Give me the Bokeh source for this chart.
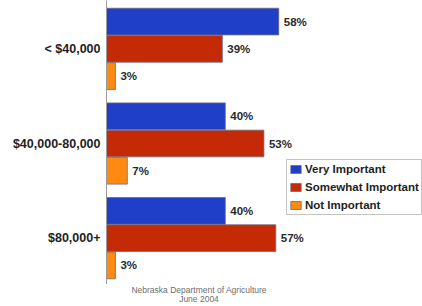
from bokeh.plotting import figure
from bokeh.models import (ColumnDataSource, Range1d, FixedTicker, Legend, LegendItem,
                          LinearAxis, Div)
from bokeh.layouts import column
from bokeh.transform import dodge
from bokeh.core.properties import value
from bokeh.embed import file_html
from bokeh.resources import INLINE

groups = ["< $40,000", "$40,000-80,000", "$80,000+"]
series = ["Very Important", "Somewhat Important", "Not Important"]
very = [58, 40, 40]
somewhat = [39, 53, 57]
not_imp = [3, 7, 3]
colors = ["#1f3fc8", "#c42a06", "#ff8a12"]
footer1 = "Nebraska Department of Agriculture"
footer2 = "June 2004"

n = len(groups)
ypos = [n - 1 - i for i in range(n)]
src = ColumnDataSource(dict(
    y=ypos, very=very, somewhat=somewhat, not_imp=not_imp,
    very_t=[f"{v}%" for v in very],
    somewhat_t=[f"{v}%" for v in somewhat],
    not_t=[f"{v}%" for v in not_imp],
))

FONT = value("Liberation Sans")

p = figure(width=422, height=284, output_backend="svg", toolbar_location=None,
           x_range=Range1d(0, 106.4), y_range=Range1d(-0.4894, 2.5106),
           min_border_left=106, min_border_right=0, min_border_top=0,
           min_border_bottom=0, x_axis_location=None, y_axis_location=None)
p.outline_line_color = None
p.xgrid.visible = False
p.ygrid.visible = False

yax = LinearAxis(ticker=FixedTicker(ticks=ypos),
                 major_label_overrides={y: g for y, g in zip(ypos, groups)})
yax.major_tick_out = 0
yax.major_tick_in = 0
yax.minor_tick_out = 0
yax.minor_tick_in = 0
yax.axis_line_color = "#9a9a9a"
yax.major_label_text_font = "Liberation Sans"
yax.major_label_text_font_style = "bold"
yax.major_label_text_font_size = "12.5px"
yax.major_label_text_color = "#1e1e1e"
yax.major_label_standoff = 6
p.add_layout(yax, "left")

xax = LinearAxis(ticker=FixedTicker(ticks=[]), bounds=(0, 70))
xax.major_tick_out = 0
xax.major_tick_in = 0
xax.minor_tick_out = 0
xax.minor_tick_in = 0
xax.major_label_standoff = 0
xax.axis_label_standoff = 0
xax.axis_line_color = "#9a9a9a"
xax.major_label_text_font_size = "0px"
p.add_layout(xax, "below")

offs = [0.288, 0.0, -0.288]
cols = ["very", "somewhat", "not_imp"]
tcols = ["very_t", "somewhat_t", "not_t"]
renderers = []
for c, t, o, col in zip(cols, tcols, offs, colors):
    r = p.hbar(y=dodge("y", o), right=c, left=0, height=0.282, source=src,
               fill_color=col, line_color="#6a6a80", line_width=1, line_alpha=0.8)
    renderers.append(r)
    p.text(x=c, y=dodge("y", o), text=t, source=src, x_offset=5,
           text_baseline="middle", text_align="left", text_font=FONT,
           text_font_style="bold", text_font_size="11.5px", text_color="#2a2a2a")

legend = Legend(items=[LegendItem(label=s, renderers=[r]) for s, r in zip(series, renderers)],
                location=(180, 69))
legend.border_line_color = "#8a8a8a"
legend.border_line_width = 1
legend.label_text_font = "Liberation Sans"
legend.label_text_font_style = "bold"
legend.label_text_font_size = "11.5px"
legend.label_text_color = "#1e1e1e"
legend.label_height = 14
legend.glyph_height = 10
legend.glyph_width = 13
legend.label_standoff = 3
legend.spacing = 4
legend.padding = 2
legend.margin = 0
legend.background_fill_alpha = 1
p.add_layout(legend, "center")

footer = Div(text=f"{footer1}<br>{footer2}", width=398, height=22, margin=0,
             styles={"font-family": "Liberation Sans", "font-size": "8.5px",
                     "line-height": "9px", "color": "#6e6e6e",
                     "text-align": "center", "padding-top": "2px"})

layout = column(p, footer, spacing=0)

open("out.html", "w").write(file_html(layout, INLINE))
